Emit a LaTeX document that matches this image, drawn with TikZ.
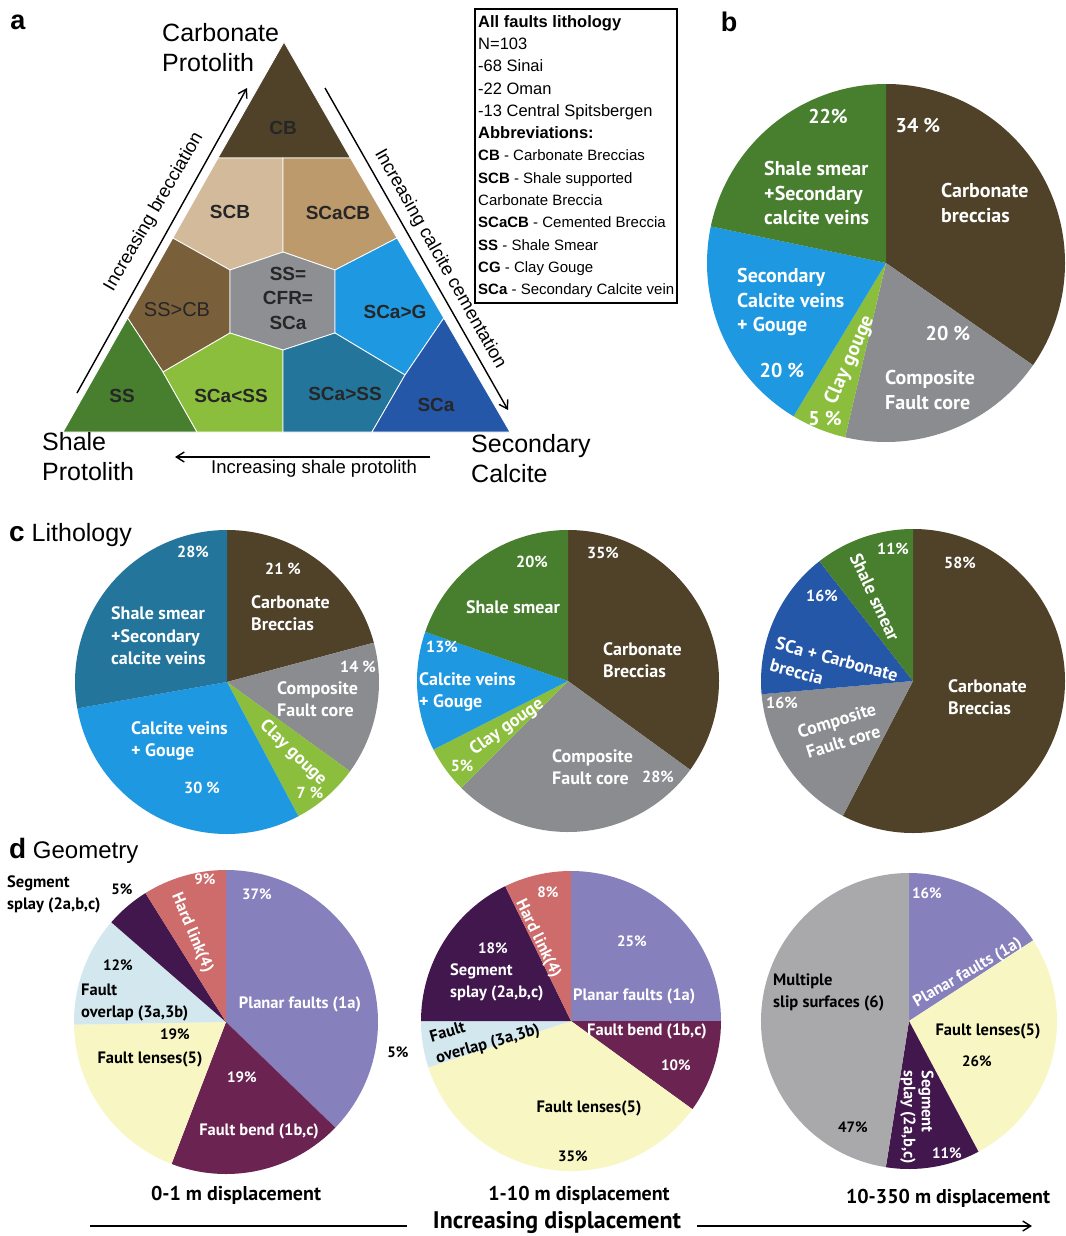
\documentclass[tikz,border=0pt]{standalone}
\usepackage{fontspec}
\setmainfont{Liberation Sans}
\newfontfamily\piefont{PT Sans}
\usetikzlibrary{arrows.meta}

\definecolor{cbrown}{HTML}{4F4229}
\definecolor{cgrey}{HTML}{8B8C8F}
\definecolor{clgreen}{HTML}{8CBE3D}
\definecolor{cblue}{HTML}{1E98E1}
\definecolor{cgreen}{HTML}{477F2F}
\definecolor{cteal}{HTML}{23759B}
\definecolor{cdblue}{HTML}{2457A8}
\definecolor{ctan}{HTML}{D3BA9B}
\definecolor{ctandark}{HTML}{BD9A6B}
\definecolor{cmbrown}{HTML}{7A5F3B}
\definecolor{chex}{HTML}{8E8F93}
\definecolor{cplanar}{HTML}{8680BD}
\definecolor{cbend}{HTML}{6B2352}
\definecolor{clens}{HTML}{F8F7C4}
\definecolor{coverlap}{HTML}{D3E7EF}
\definecolor{csplay}{HTML}{41174D}
\definecolor{chard}{HTML}{CE6B6B}
\definecolor{cslip}{HTML}{A9A9AC}

% centre, from angle, to angle, radius, colour
\newcommand{\pieslice}[5]{\fill[#5] (#1) -- ++(#2:#4) arc[start angle=#2, end angle=#3, radius=#4] -- cycle;}
\newcommand{\abbr}[2]{{\fontsize{15}{22.3}\selectfont\textbf{#1} - #2}}

\tikzset{
  zone/.style={draw=white, line width=0.8pt},
  zonelbl/.style={font=\bfseries\fontsize{19}{22}\selectfont, text=black!85, align=center},
  cornerlbl/.style={font=\fontsize{25}{30}\selectfont, align=left, inner sep=0pt, anchor=west},
  sidelbl/.style={font=\fontsize{18.5}{22}\selectfont, inner sep=0pt},
  trend/.style={line width=1.4pt, -{Straight Barb[length=8pt,width=10pt]}},
  panel/.style={font=\bfseries\fontsize{27}{30}\selectfont, inner sep=0pt},
  lblB/.style={font=\piefont\bfseries\fontsize{20}{24.5}\selectfont, text=white, align=left, inner sep=0pt},
  lblC/.style={font=\piefont\bfseries\fontsize{18}{22.5}\selectfont, text=white, align=left, inner sep=0pt},
  lblD/.style={font=\piefont\bfseries\fontsize{16.5}{22}\selectfont, text=white, align=left, inner sep=0pt},
  pcB/.style={font=\piefont\bfseries\fontsize{20}{24}\selectfont, text=white, inner sep=0pt},
  pcC/.style={font=\piefont\bfseries\fontsize{16}{19}\selectfont, text=white, inner sep=0pt},
  pcD/.style={font=\piefont\bfseries\fontsize{15}{18}\selectfont, text=white, inner sep=0pt},
  dispcap/.style={font=\piefont\bfseries\fontsize{20}{24}\selectfont, inner sep=0pt},
}

\begin{document}
\begin{tikzpicture}[x=1pt, y=1pt]

  \fill[white] (0,0) rectangle (1065,-1236);
  \useasboundingbox (0,0) rectangle (1065,-1236);

  % a: ternary triangle
  \node[panel] (la) at (18,-22) {a};

  \coordinate (A) at (284,-42);
  \coordinate (L) at (63,-432);
  \coordinate (R) at (510,-432);
  \coordinate (c1) at (218,-158);
  \coordinate (c2) at (283,-158);
  \coordinate (c3) at (350.5,-158);
  \coordinate (l1) at (172.8,-238);
  \coordinate (r1) at (397,-238);
  \coordinate (l2) at (127.6,-318);
  \coordinate (r2) at (443.8,-318);
  \coordinate (h1) at (283,-252);
  \coordinate (h2) at (335,-270);
  \coordinate (h3) at (335,-333);
  \coordinate (h4) at (283,-350);
  \coordinate (h5) at (230,-333);
  \coordinate (h6) at (230,-270);
  \coordinate (b1) at (163,-372);
  \coordinate (b2) at (405,-375);
  \coordinate (p1) at (197,-432);
  \coordinate (p2) at (283,-432);
  \coordinate (p3) at (372,-432);

  \fill[zone, fill=cbrown] (A) -- (c3) -- (c1) -- cycle;
  \fill[zone, fill=ctan] (c1) -- (c2) -- (h1) -- (h6) -- (l1) -- cycle;
  \fill[zone, fill=ctandark] (c2) -- (c3) -- (r1) -- (h2) -- (h1) -- cycle;
  \fill[zone, fill=cmbrown] (l1) -- (h6) -- (h5) -- (b1) -- (l2) -- cycle;
  \fill[zone, fill=chex] (h1) -- (h2) -- (h3) -- (h4) -- (h5) -- (h6) -- cycle;
  \fill[zone, fill=cblue] (h2) -- (r1) -- (r2) -- (b2) -- (h3) -- cycle;
  \fill[zone, fill=cgreen] (L) -- (l2) -- (b1) -- (p1) -- cycle;
  \fill[zone, fill=clgreen] (b1) -- (h5) -- (h4) -- (p2) -- (p1) -- cycle;
  \fill[zone, fill=cteal] (h4) -- (h3) -- (b2) -- (p3) -- (p2) -- cycle;
  \fill[zone, fill=cdblue] (b2) -- (r2) -- (R) -- (p3) -- cycle;

  \node[zonelbl] (zcb) at (283,-128) {CB};
  \node[zonelbl] (zscb) at (230,-212) {SCB};
  \node[zonelbl] (zscacb) at (338,-213) {SCaCB};
  \node[zonelbl, font=\fontsize{20}{22}\selectfont] (zsscb) at (177,-310) {SS>CB};
  \node[zonelbl, font=\bfseries\fontsize{19}{24.5}\selectfont] (zmid) at (288,-298) {SS=\\CFR=\\SCa};
  \node[zonelbl] (zscag) at (395,-312) {SCa>G};
  \node[zonelbl] (zss) at (122,-396) {SS};
  \node[zonelbl] (zscalt) at (231,-396) {SCa<SS};
  \node[zonelbl] (zscagt) at (345,-394) {SCa>SS};
  \node[zonelbl] (zsca) at (436,-405) {SCa};

  \node[cornerlbl] (carb) at (162,-48) {Carbonate\\Protolith};
  \node[cornerlbl] (shale) at (42,-457) {Shale\\Protolith};
  \node[cornerlbl] (secca) at (471,-459) {Secondary\\Calcite};

  \coordinate (brA) at (77,-393);
  \coordinate (brB) at (247,-88);
  \coordinate (ccA) at (325,-88);
  \coordinate (ccB) at (508,-410);
  \coordinate (spA) at (430,-457);
  \coordinate (spB) at (175,-457);
  \draw[trend] (brA) -- (brB);
  \draw[trend] (ccA) -- (ccB);
  \draw[trend] (spA) -- (spB);
  \node[sidelbl, rotate=60] (brec) at (154,-212) {Increasing brecciation};
  \node[sidelbl, rotate=-60.5] (cem) at (440,-259) {Increasing calcite cementation};
  \node[sidelbl] (shp) at (314,-469) {Increasing shale protolith};

  % legend box
  \coordinate (lgA) at (475,-9);
  \coordinate (lgB) at (677,-303);
  \draw[line width=1.3pt] (lgA) rectangle (lgB);
  \node[anchor=north west, align=left, inner sep=0pt,
        font=\fontsize{16.5}{22.3}\selectfont] (legend) at (478,-15)
    {\textbf{All faults lithology}\\N=103\\-68 Sinai\\-22 Oman\\-13 Central Spitsbergen\\
     \textbf{Abbreviations:}\\\abbr{CB}{Carbonate Breccias}\\\abbr{SCB}{Shale supported}\\
     {\fontsize{15}{22.3}\selectfont Carbonate Breccia}\\\abbr{SCaCB}{Cemented Breccia}\\
     \abbr{SS}{Shale Smear}\\\abbr{CG}{Clay Gouge}\\\abbr{SCa}{Secondary Calcite vein}};

  % b: all faults
  \node[panel] (lb) at (729,-22) {b};
  \coordinate (pb) at (886,-263);
  \pieslice{pb}{90}{-34.8}{179}{cbrown}
  \pieslice{pb}{-34.8}{-103.2}{179}{cgrey}
  \pieslice{pb}{-103.2}{-121.1}{179}{clgreen}
  \pieslice{pb}{-121.1}{-191.8}{179}{cblue}
  \pieslice{pb}{-191.8}{-270}{179}{cgreen}
  \node[pcB] (b22) at (828,-117) {22\%};
  \node[pcB] (b34) at (918,-125) {34 \%};
  \node[lblB, anchor=west] (bss) at (764,-193) {Shale smear\\+Secondary\\calcite veins};
  \node[lblB, anchor=west] (bcb) at (941,-203) {Carbonate\\breccias};
  \node[lblB, anchor=west] (bsc) at (737,-302) {Secondary\\Calcite veins\\+ Gouge};
  \node[pcB] (b20a) at (948,-333) {20 \%};
  \node[lblB, rotate=66] (bcg) at (850,-360) {Clay gouge};
  \node[pcB] (b20b) at (782,-370) {20 \%};
  \node[pcB] (b5) at (825,-418) {5 \%};
  \node[lblB, anchor=west] (bcf) at (885,-390) {Composite\\Fault core};

  % c: lithology with displacement
  \node[anchor=west, inner sep=0pt, font=\fontsize{25}{28}\selectfont] (lc) at (9,-535)
    {{\bfseries\fontsize{28}{30}\selectfont c} Lithology};

  \coordinate (pc1) at (227,-682);
  \pieslice{pc1}{90}{15}{152}{cbrown}
  \pieslice{pc1}{15}{-36}{152}{cgrey}
  \pieslice{pc1}{-36}{-62}{152}{clgreen}
  \pieslice{pc1}{-62}{-170}{152}{cblue}
  \pieslice{pc1}{-170}{-270}{152}{cteal}
  \node[pcC] (c28) at (193,-552) {28\%};
  \node[pcC] (c21) at (283,-569) {21 \%};
  \node[lblC, anchor=west] (c1cb) at (251,-613) {Carbonate\\Breccias};
  \node[lblC, anchor=west] (c1ss) at (111,-636) {Shale smear\\+Secondary\\calcite veins};
  \node[pcC] (c14) at (358,-667) {14 \%};
  \node[lblC, anchor=west] (c1cf) at (277,-699) {Composite\\Fault core};
  \node[lblC, rotate=-44] (c1cg) at (293,-753) {Clay gouge};
  \node[pcC] (c7) at (310,-793) {7 \%};
  \node[lblC, anchor=west] (c1cv) at (131,-741) {Calcite veins\\+ Gouge};
  \node[pcC] (c30) at (202,-788) {30 \%};

  \coordinate (pc2) at (568,-681);
  \pieslice{pc2}{90}{-36}{151}{cbrown}
  \pieslice{pc2}{-36}{-135}{151}{cgrey}
  \pieslice{pc2}{-135}{-153}{151}{clgreen}
  \pieslice{pc2}{-153}{-199}{151}{cblue}
  \pieslice{pc2}{-199}{-270}{151}{cgreen}
  \node[pcC] (c20) at (532,-562) {20\%};
  \node[pcC] (c35) at (603,-553) {35\%};
  \node[lblC] (c2ss) at (513,-607) {Shale smear};
  \node[pcC] (c13) at (442,-647) {13\%};
  \node[lblC, anchor=west] (c2cb) at (603,-660) {Carbonate\\Breccias};
  \node[lblC, anchor=west] (c2cv) at (419,-692) {Calcite veins\\+ Gouge};
  \node[lblC, rotate=35] (c2cg) at (507,-727) {Clay gouge};
  \node[pcC] (c5) at (462,-766) {5\%};
  \node[lblC, anchor=west] (c2cf) at (552,-767) {Composite\\Fault core};
  \node[pcC] (c28b) at (658,-777) {28\%};

  \coordinate (pc3) at (913,-681);
  \pieslice{pc3}{90}{-117.5}{152}{cbrown}
  \pieslice{pc3}{-117.5}{-175}{152}{cgrey}
  \pieslice{pc3}{-175}{-232}{152}{cdblue}
  \pieslice{pc3}{-232}{-270}{152}{cgreen}
  \node[pcC] (c11) at (893,-549) {11\%};
  \node[pcC] (c58) at (960,-563) {58\%};
  \node[lblC, rotate=-65] (c3ss) at (875,-597) {Shale smear};
  \node[pcC] (c16a) at (822,-596) {16\%};
  \node[lblC, rotate=-15] (c3sca) at (834,-670) {SCa + Carbonate\\breccia};
  \node[pcC] (c16b) at (782,-703) {16\%};
  \node[lblC, align=center, rotate=17] (c3cf) at (840,-731) {Composite\\Fault core};
  \node[lblC, anchor=west] (c3cb) at (948,-697) {Carbonate\\Breccias};

  % d: geometry with displacement
  \node[anchor=west, inner sep=0pt, font=\fontsize{24}{28}\selectfont] (ld) at (9,-851)
    {{\bfseries\fontsize{28}{30}\selectfont d} Geometry};

  \coordinate (pd1) at (226,-1022);
  \pieslice{pd1}{90}{-44}{152}{cplanar}
  \pieslice{pd1}{-44}{-111}{152}{cbend}
  \pieslice{pd1}{-111}{-179}{152}{clens}
  \pieslice{pd1}{-179}{-221}{152}{coverlap}
  \pieslice{pd1}{-221}{-238}{152}{csplay}
  \pieslice{pd1}{-238}{-270}{152}{chard}
  \node[lblD, text=black, anchor=west] (d1sp) at (7,-894) {Segment\\splay (2a,b,c)};
  \node[pcD, text=black] (d5) at (122,-889) {5\%};
  \node[pcD] (d9) at (205,-879) {9\%};
  \node[pcD] (d37) at (257,-894) {37\%};
  \node[lblD, rotate=-67] (d1hl) at (192,-933) {Hard link(4)};
  \node[pcD, text=black] (d12) at (118,-965) {12\%};
  \node[lblD, text=black, anchor=west] (d1ov) at (81,-1003) {Fault\\overlap (3a,3b)};
  \node[lblD] (d1pf) at (300,-1004) {Planar faults (1a)};
  \node[pcD, text=black] (d19a) at (175,-1034) {19\%};
  \node[lblD, text=black] (d1fl) at (150,-1059) {Fault lenses(5)};
  \node[pcD] (d19b) at (242,-1077) {19\%};
  \node[lblD] (d1fb) at (259,-1131) {Fault bend (1b,c)};
  \node[dispcap] (disp1) at (236,-1195) {0-1 m displacement};

  \coordinate (pd2) at (571,-1021);
  \pieslice{pd2}{90}{0}{150}{cplanar}
  \pieslice{pd2}{0}{-36}{150}{cbend}
  \pieslice{pd2}{-36}{-162}{150}{clens}
  \pieslice{pd2}{-162}{-180}{150}{coverlap}
  \pieslice{pd2}{-180}{-244}{150}{csplay}
  \pieslice{pd2}{-244}{-270}{150}{chard}
  \node[pcD] (d8) at (548,-892) {8\%};
  \node[lblD, rotate=-64] (d2hl) at (538,-939) {Hard link(4)};
  \node[pcD] (d25) at (632,-941) {25\%};
  \node[pcD] (d18) at (493,-948) {18\%};
  \node[lblD, anchor=west] (d2sp) at (450,-982) {Segment\\splay (2a,b,c)};
  \node[lblD, anchor=west] (d2pf) at (573,-996) {Planar faults (1a)};
  \node[lblD, text=black, rotate=16] (d2ov) at (485,-1034) {Fault\\overlap (3a,3b)};
  \node[pcD, text=black] (d5b) at (398,-1052) {5\%};
  \node[lblD, anchor=west] (d2fb) at (587,-1031) {Fault bend (1b,c)};
  \node[pcD] (d10) at (676,-1065) {10\%};
  \node[lblD, text=black] (d2fl) at (589,-1108) {Fault lenses(5)};
  \node[pcD, text=black] (d35) at (573,-1156) {35\%};
  \node[dispcap] (disp2) at (579,-1195) {1-10 m displacement};

  \coordinate (pd3) at (909,-1021);
  \pieslice{pd3}{90}{33}{148}{cplanar}
  \pieslice{pd3}{33}{-62}{148}{clens}
  \pieslice{pd3}{-62}{-99}{148}{csplay}
  \pieslice{pd3}{-99}{-270}{148}{cslip}
  \node[pcD] (d16) at (927,-893) {16\%};
  \node[lblD, rotate=30] (d3pf) at (968,-973) {Planar faults (1a)};
  \node[lblD, text=black, anchor=west] (d3ms) at (773,-992) {Multiple\\slip surfaces (6)};
  \node[lblD, text=black] (d3fl) at (988,-1031) {Fault lenses(5)};
  \node[pcD, text=black] (d26) at (977,-1061) {26\%};
  \node[lblD, rotate=-90, font=\piefont\bfseries\fontsize{16.5}{18}\selectfont] (d3sp) at (917,-1117) {Segment\\splay (2a,b,c)};
  \node[pcD, text=black] (d47) at (853,-1127) {47\%};
  \node[pcD] (d11) at (947,-1153) {11\%};
  \node[dispcap] (disp3) at (948,-1198) {10-350 m displacement};

  % displacement trend
  \coordinate (dsA) at (90,-1226);
  \coordinate (dsB) at (1032,-1226);
  \node[font=\piefont\bfseries\fontsize{24}{28}\selectfont, inner xsep=0pt, outer xsep=0pt] (incd) at (557,-1222) {Increasing displacement};
  \draw[line width=1.4pt, shorten >=26pt] (dsA) -- (dsA -| incd.west);
  \draw[line width=1.4pt, shorten <=16pt, -{Straight Barb[length=8pt,width=10pt]}] (dsB -| incd.east) -- (dsB);

\end{tikzpicture}
\end{document}
